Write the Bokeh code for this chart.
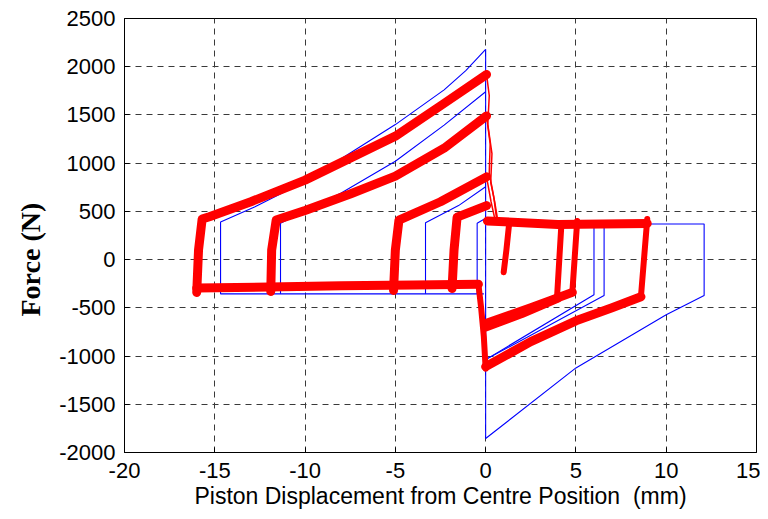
from bokeh.plotting import figure
from bokeh.models import Range1d, FixedTicker, PrintfTickFormatter, Title
from bokeh.embed import file_html
from bokeh.resources import INLINE

# ---- axis ticks ----
x_ticks = [-20, -15, -10, -5, 0, 5, 10, 15]
y_ticks = [-2000, -1500, -1000, -500, 0, 500, 1000, 1500, 2000, 2500]

# ---- simulation (blue) ----
blue_left1_x = [-0.1, -14.68, -14.68, -12.8, -10, -5, -2.3, -1.1, 0]
blue_left1_y = [-355, -355, 390, 545, 810, 1400, 1760, 1960, 2180]
blue_left2_x = [-11.36, -11.36, -8, -5, -2.3, 0]
blue_left2_y = [-355, 376, 690, 1020, 1395, 1740]
blue_left3_x = [-3.33, -3.33, -1.5, 0]
blue_left3_y = [-355, 383, 560, 755]
blue_left4_x = [-0.47, -0.47, 0]
blue_left4_y = [-355, 376, 428]
blue_centre_x = [0, 0]
blue_centre_y = [-1855, 2180]
blue_right1_x = [0, 12.1, 12.1, 10, 5, 0]
blue_right1_y = [370, 370, -372, -572, -1123, -1855]
blue_right2_x = [6.56, 6.56, 0]
blue_right2_y = [376, -372, -1037]
blue_right3_x = [6.0, 6.0, 0]
blue_right3_y = [376, -365, -1037]

# ---- experiment (red) : thick bands ----
red_bottom_x = [-16.0, -12, -8, -4, -0.4]
red_bottom_y = [-295, -285, -272, -262, -255]
red_up1_x = [-16.0, -15.9, -15.7, -15.3, -13, -10, -5, -2.3, 0.05]
red_up1_y = [-340, 100, 420, 445, 600, 824, 1280, 1620, 1920]
red_up2_x = [-11.9, -11.85, -11.6, -10, -7.5, -5, -2.3, 0.05]
red_up2_y = [-330, 100, 410, 510, 680, 865, 1155, 1490]
red_up3_x = [-5.1, -5.0, -4.8, -2.5, 0.05]
red_up3_y = [-320, 100, 410, 600, 858]
red_up4_x = [-1.86, -1.75, -1.58, 0.05]
red_up4_y = [-300, 100, 440, 560]
red_top_right_x = [0.1, 4, 8.95]
red_top_right_y = [400, 365, 375]
red_low_a1_x = [0, 2, 4.0]
red_low_a1_y = [-700, -560, -400]
red_low_a2_x = [0.05, 2.5, 4.8]
red_low_a2_y = [-660, -500, -340]
red_low_b_x = [0, 2.5, 5, 7, 8.6]
red_low_b_y = [-1110, -850, -635, -500, -385]

# ---- experiment (red) : verticals ----
red_drop_x = [-0.4, -0.25, -0.1, 0.0]
red_drop_y = [-255, -500, -800, -1130]
red_v1_x = [8.6, 8.95]
red_v1_y = [-385, 420]
red_v2_x = [4.8, 5.07]
red_v2_y = [-340, 400]
red_v3_x = [3.95, 4.2]
red_v3_y = [-400, 380]
red_stub_x = [1.3, 1.15, 1.0]
red_stub_y = [370, 100, -130]

# ---- experiment (red) : thin release traces at x=0 ----
red_t1_x = [0.05, 0.2, 0.12, 0.35, 0.28, 0.5, 0.65]
red_t1_y = [1920, 1700, 1400, 1100, 800, 600, 430]
red_t2_x = [0.05, 0.25, 0.2, 0.45, 0.6]
red_t2_y = [1490, 1200, 900, 650, 430]
red_t3_x = [0.05, 0.3, 0.5]
red_t3_y = [858, 600, 430]

x_title = "Piston Displacement from Centre Position\u00a0 (mm)"
y_title = "Force (N)"

p = figure(width=760, height=511,
           x_range=Range1d(-20, 15), y_range=Range1d(-2000, 2500),
           output_backend="svg", toolbar_location=None,
           min_border_left=124, min_border_right=4,
           min_border_top=18, min_border_bottom=58)
p.background_fill_color = "white"
p.border_fill_color = "white"
p.outline_line_color = "black"
p.outline_line_width = 1
p.outline_line_alpha = 1

p.xaxis.ticker = FixedTicker(ticks=x_ticks)
p.yaxis.ticker = FixedTicker(ticks=y_ticks)
p.xaxis.formatter = PrintfTickFormatter(format="%d")
p.yaxis.formatter = PrintfTickFormatter(format="%d")
p.xgrid.ticker = FixedTicker(ticks=x_ticks)
p.ygrid.ticker = FixedTicker(ticks=y_ticks)
for g in (p.xgrid, p.ygrid):
    g.grid_line_color = "#3a3a3a"
    g.grid_line_dash = "6 5"
    g.grid_line_width = 1

for ax in (p.xaxis[0], p.yaxis[0]):
    ax.major_tick_in = 5
    ax.major_tick_out = 0
    ax.minor_tick_in = 0
    ax.minor_tick_out = 0
    ax.axis_line_color = "black"
    ax.major_tick_line_color = "black"
    ax.major_label_text_font = "Liberation Sans"
    ax.major_label_text_font_size = "22px"
    ax.major_label_text_color = "black"

p.xaxis.major_label_standoff = 10
p.yaxis.major_label_standoff = 9
p.xaxis.axis_label = x_title
p.xaxis.axis_label_text_font = "Liberation Sans"
p.xaxis.axis_label_text_font_size = "23px"
p.xaxis.axis_label_text_font_style = "normal"
p.xaxis.axis_label_text_color = "black"
p.xaxis.axis_label_standoff = 2

ytitle = Title(text=y_title, text_font="Liberation Serif", text_font_size="28px",
               text_font_style="bold", text_color="black", align="left",
               offset=136, standoff=22)
p.add_layout(ytitle, "left")

blue_xs = [blue_left1_x, blue_left2_x, blue_left3_x, blue_left4_x, blue_centre_x,
           blue_right1_x, blue_right2_x, blue_right3_x]
blue_ys = [blue_left1_y, blue_left2_y, blue_left3_y, blue_left4_y, blue_centre_y,
           blue_right1_y, blue_right2_y, blue_right3_y]
p.multi_line(blue_xs, blue_ys, line_color="#0000ff", line_width=1.1)

band_xs = [red_bottom_x, red_up1_x, red_up2_x, red_up3_x, red_up4_x, red_top_right_x,
           red_low_a1_x, red_low_a2_x, red_low_b_x]
band_ys = [red_bottom_y, red_up1_y, red_up2_y, red_up3_y, red_up4_y, red_top_right_y,
           red_low_a1_y, red_low_a2_y, red_low_b_y]
p.multi_line(band_xs, band_ys, line_color="#ff0000", line_width=9,
             line_join="round", line_cap="round")

vert_xs = [red_drop_x, red_v1_x, red_v2_x, red_v3_x, red_stub_x]
vert_ys = [red_drop_y, red_v1_y, red_v2_y, red_v3_y, red_stub_y]
p.multi_line(vert_xs, vert_ys, line_color="#ff0000", line_width=6,
             line_join="round", line_cap="round")

thin_xs = [red_t1_x, red_t2_x, red_t3_x]
thin_ys = [red_t1_y, red_t2_y, red_t3_y]
p.multi_line(thin_xs, thin_ys, line_color="#ff0000", line_width=1.5)

open("out.html", "w").write(file_html(p, INLINE))
